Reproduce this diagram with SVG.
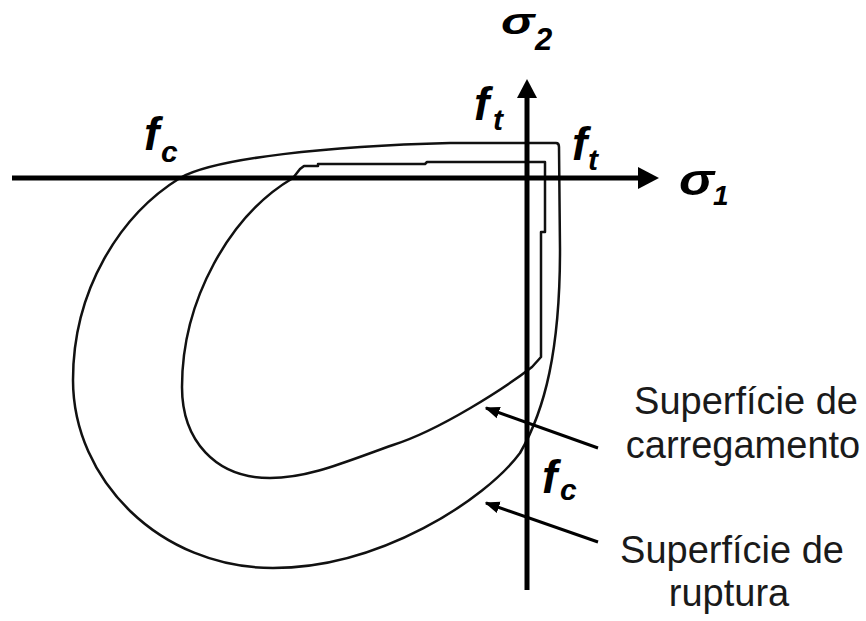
<svg xmlns="http://www.w3.org/2000/svg" width="866" height="621" viewBox="0 0 866 621">
<style>
.curve{fill:none;stroke:#111;stroke-width:2.5;stroke-linejoin:round}
.axis{fill:none;stroke:#000;stroke-width:5}
.ptr{fill:none;stroke:#000;stroke-width:3}
.sym{font-family:"Liberation Sans",Arial,sans-serif;font-weight:bold;font-style:italic;fill:#000}
.lbl{font-family:"Liberation Sans",Arial,sans-serif;font-size:38px;fill:#1a1a1a;text-anchor:middle}
</style>
<defs>
<marker id="ah" viewBox="0 0 10 10" refX="9" refY="5" markerWidth="5" markerHeight="5" orient="auto-start-reverse" markerUnits="strokeWidth">
<path d="M0,1 L10,5 L0,9 Z" fill="#000"/>
</marker>
</defs>
<rect width="866" height="621" fill="#fff"/>
<g id="ruptura">
<path class="curve" d="M 559 147 L 560 250 C 560 350, 545 410, 520 453 C 485 500, 380 568, 273 568 C 160 568, 73 480, 73 380 C 73 290, 120 215, 180 178 C 215 158, 330 146, 450 143 L 556 143 Q 559 143 559 147 Z"/>
</g>
<g id="carregamento">
<path class="curve" d="M 532 367 C 505 388, 440 430, 393 445 C 350 460, 310 478, 270 478 C 215 478, 182 440, 182 387 C 182 300, 230 215, 293 178 L 300 169 L 304 166 L 318 166 L 318 164 L 425 164 L 427 162 L 545 162 L 545 232 L 541 232 L 541 357 Z"/>
</g>
<g id="axes">
<path class="axis" d="M 12 178 L 642 178"/>
<path d="M 638 167 L 659 178 L 638 189 Z" fill="#000"/>
<path class="axis" d="M 527 590 L 527 95"/>
<path d="M 517 98 L 527 79 L 537 98 Z" fill="#000"/>
</g>
<g id="connectors">
<path class="ptr" d="M 598 448 L 486 408" marker-end="url(#ah)"/>
<path class="ptr" d="M 598 542 L 486 503" marker-end="url(#ah)"/>
</g>
<g id="labels">
<text class="sym" transform="translate(501,34) scale(1.4,1.05)" font-size="36">σ</text>
<text class="sym" x="535" y="50" font-size="31" font-style="normal">2</text>
<text class="sym" transform="translate(679,195) scale(1.2,1)" font-size="44">σ</text>
<text class="sym" x="713" y="205" font-size="28">1</text>
<text class="sym" x="474" y="120" font-size="46">f</text>
<text class="sym" x="493" y="130" font-size="30">t</text>
<text class="sym" x="572" y="160" font-size="46">f</text>
<text class="sym" x="588" y="170" font-size="30">t</text>
<text class="sym" x="144" y="150" font-size="46">f</text>
<text class="sym" x="161" y="162" font-size="30">c</text>
<text class="sym" x="542" y="493" font-size="46">f</text>
<text class="sym" x="560" y="500" font-size="30">c</text>
<text class="lbl" x="746" y="414">Superfície de</text>
<text class="lbl" x="743" y="458">carregamento</text>
<text class="lbl" x="732" y="563">Superfície de</text>
<text class="lbl" x="729" y="606">ruptura</text>
</g>
</svg>
